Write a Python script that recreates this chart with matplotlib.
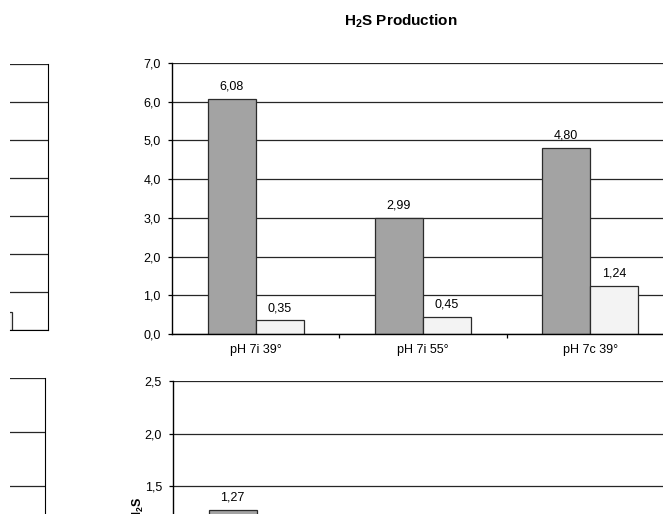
"""H2S production bar charts, cropped page view (Excel-style)."""

import matplotlib

matplotlib.use("Agg")

import matplotlib.pyplot as plt  # noqa: E402
from matplotlib.ticker import FuncFormatter, FixedLocator, MultipleLocator  # noqa: E402

plt.rcParams["font.family"] = ["Liberation Sans", "DejaVu Sans"]
plt.rcParams["mathtext.fontset"] = "custom"
plt.rcParams["mathtext.rm"] = "Liberation Sans:bold"
plt.rcParams["mathtext.it"] = "Liberation Sans:bold"

# --- data -----------------------------------------------------------------
categories = ["pH 7i 39°", "pH 7i 55°", "pH 7c 39°"]
top_dark = [6.08, 2.99, 4.80]
top_light = [0.35, 0.45, 1.24]
bottom_dark = [1.27]          # only the first bar shows above the crop
bottom_ticks = [1.5, 2.0, 2.5]
left_top_light = [0.47]       # edge of a bar from the neighbouring chart

W, H = 663, 514
DARK = "#a3a3a3"
LIGHT = "#f3f3f3"
EDGE = "#2b2b2b"
GRID = "#262626"
FS = 9


def px_axes(fig, left, top, right, bottom):
    return fig.add_axes([left / W, 1 - bottom / H, (right - left) / W, (bottom - top) / H])


def comma(v, _pos):
    return f"{v:.1f}".replace(".", ",")


def style_main(ax, ymax, step, show_x=True):
    ax.set_ylim(0, ymax)
    ax.set_xlim(-0.5, len(categories) - 0.5)
    ax.yaxis.set_major_locator(MultipleLocator(step))
    ax.yaxis.set_major_formatter(FuncFormatter(comma))
    ax.grid(axis="y", color=GRID, linewidth=0.9)
    ax.set_axisbelow(True)
    for s in ("top", "right"):
        ax.spines[s].set_visible(False)
    ax.spines["left"].set_linewidth(1.0)
    ax.spines["bottom"].set_linewidth(1.0)
    ax.tick_params(axis="y", direction="out", length=3, width=0.9, labelsize=FS, pad=5)
    ax.xaxis.set_major_locator(FixedLocator([0.5, 1.5]))
    ax.xaxis.set_minor_locator(FixedLocator(range(len(categories))))
    ax.set_xticklabels([], minor=False)
    if show_x:
        ax.set_xticklabels(categories, minor=True)
    else:
        ax.tick_params(axis="x", which="both", labelbottom=False)
    ax.tick_params(axis="x", which="major", direction="out", length=3, width=0.9)
    ax.tick_params(axis="x", which="minor", length=0, labelsize=FS, pad=7)


def label_bars(ax, bars, values):
    for b, v in zip(bars, values):
        ax.annotate(f"{v:.2f}".replace(".", ","), (b.get_x() + b.get_width() / 2, v),
                    xytext=(0, 4.5), textcoords="offset points",
                    ha="center", va="bottom", fontsize=FS)


fig = plt.figure(figsize=(W / 100, H / 100), dpi=100)
bw = 48 / 167
xs = list(range(len(categories)))

# top main chart
ax = px_axes(fig, 172, 63, 674, 334)
style_main(ax, 7, 1)
b1 = ax.bar([x - bw / 2 for x in xs], top_dark, bw, color=DARK, edgecolor=EDGE, linewidth=0.9)
b2 = ax.bar([x + bw / 2 for x in xs], top_light, bw, color=LIGHT, edgecolor=EDGE, linewidth=0.9)
label_bars(ax, b1, top_dark)
label_bars(ax, b2, top_light)
fig.text(401 / W, 1 - 21 / H, "H$_2$S Production", ha="center", va="center",
         fontsize=11, fontweight="bold")

# bottom main chart (cut off by the page)
ax2 = px_axes(fig, 173, 381, 674, 643.5)
style_main(ax2, 2.5, 0.5, show_x=False)
ax2.yaxis.set_major_locator(FixedLocator(bottom_ticks))
b3 = ax2.bar([x - bw / 2 for x in xs[:len(bottom_dark)]], bottom_dark, bw,
             color=DARK, edgecolor=EDGE, linewidth=0.9)
label_bars(ax2, b3, bottom_dark)
fig.text(138 / W, 1 - 497 / H, "H$_2$S", rotation=90, ha="center", va="top",
         fontsize=9, fontweight="bold")

# left neighbouring charts, mostly outside the crop
axl = px_axes(fig, 10, 64, 48, 330)
axl.set_ylim(0, 7)
axl.set_xlim(0, 1)
axl.yaxis.set_major_locator(MultipleLocator(1))
axl.grid(axis="y", color=GRID, linewidth=0.9)
axl.set_axisbelow(True)
axl.bar([-0.25], left_top_light, 0.30, align="edge", color=LIGHT, edgecolor=EDGE, linewidth=0.9)
for s in ("top", "left"):
    axl.spines[s].set_visible(False)
axl.tick_params(left=False, bottom=False, labelleft=False, labelbottom=False)

axl2 = px_axes(fig, 10, 378, 45, 378 + 5 * 54)
axl2.set_ylim(0, 2.5)
axl2.set_xlim(0, 1)
axl2.yaxis.set_major_locator(MultipleLocator(0.5))
axl2.grid(axis="y", color=GRID, linewidth=0.9)
for s in ("top", "left", "bottom"):
    axl2.spines[s].set_visible(False)
axl2.tick_params(left=False, bottom=False, labelleft=False, labelbottom=False)

fig.savefig("out.png", dpi=100)
